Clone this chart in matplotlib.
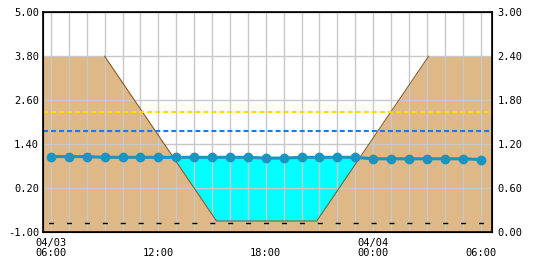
import numpy as np
import matplotlib
matplotlib.use('Agg')
import matplotlib.pyplot as plt

# hours after 04/03 06:00
hours = list(range(25))
# water level (right axis units, m)
level = [1.03, 1.03, 1.03, 1.02, 1.02, 1.02, 1.02, 1.02, 1.02, 1.02, 1.02, 1.02,
         1.01, 1.01, 1.02, 1.02, 1.02, 1.02, 1.00, 1.00, 1.00, 1.00, 1.00, 1.00, 0.99]
# cross-section profile (left axis units)
bank_x = [-0.5, 3.0, 9.25, 14.85, 21.1, 24.7]
bank_y = [3.8, 3.8, -0.70, -0.70, 3.8, 3.8]
yellow_lvl = 2.28
blue_lvl = 1.76
black_lvl = -0.76

left_ticks = [-1.0, 0.2, 1.4, 2.6, 3.8, 5.0]
right_ticks = [0.0, 0.6, 1.2, 1.8, 2.4, 3.0]
x_ticks = [0, 6, 12, 18, 24]
x_labels = ['04/03\n06:00', '\n12:00', '\n18:00', '04/04\n00:00', '\n06:00']

plt.rcParams['font.family'] = 'DejaVu Sans Mono'
plt.rcParams['font.size'] = 7.5

fig = plt.figure(figsize=(5.5, 2.65), dpi=100)
ax = fig.add_axes([0.0776, 0.1245, 0.817, 0.829])

lvl_left = [2 * v - 1 for v in level]
wl = np.mean(lvl_left)
bx = np.array(bank_x)
by = np.array(bank_y)

ax.fill_between(bx, by, -1, color='#DEB887', lw=0)
ax.fill_between(bx, by, wl, where=by < wl, interpolate=True, color='#00FFFF', lw=0)
ax.plot(bx[1:5], by[1:5], color='#8B5A2B', lw=0.8, zorder=1.8)

ax.axhline(yellow_lvl, color='#FFD700', lw=1.5, dashes=(2.4, 1.45), zorder=1.9)
ax.axhline(blue_lvl, color='#1E78E6', lw=1.5, dashes=(2.4, 1.45), zorder=1.9)
ax.axhline(black_lvl, color='black', lw=1.0, linestyle=(8.9, (3.6, 9.3)), zorder=1.9)

ax.plot(hours, lvl_left, color='#1A94C0', lw=2.2, marker='o', ms=6, zorder=3)

ax.set_xlim(-0.46, 24.64)
ax.set_ylim(-1, 5)
ax.set_yticks(left_ticks)
ax.set_yticklabels(['%.2f' % t for t in left_ticks])
ax.set_xticks(hours, minor=True)
ax.set_xticks(x_ticks)
ax.set_xticklabels(x_labels, linespacing=1.05)
ax.set_axisbelow('line')
ax.grid(True, which='both', axis='x', color='#C8C8C8', lw=1)
ax.grid(True, axis='y', color='#C8C8C8', lw=1)
ax.tick_params(length=0, which='both', pad=2.5)
ax.tick_params(axis='x', pad=4)
for s in ax.spines.values():
    s.set_linewidth(1.2)

ax2 = ax.twinx()
ax2.set_ylim(0, 3)
ax2.set_yticks(right_ticks)
ax2.set_yticklabels(['%.2f' % t for t in right_ticks])
ax2.tick_params(length=0, pad=4)

fig.savefig('out.png', dpi=100)
